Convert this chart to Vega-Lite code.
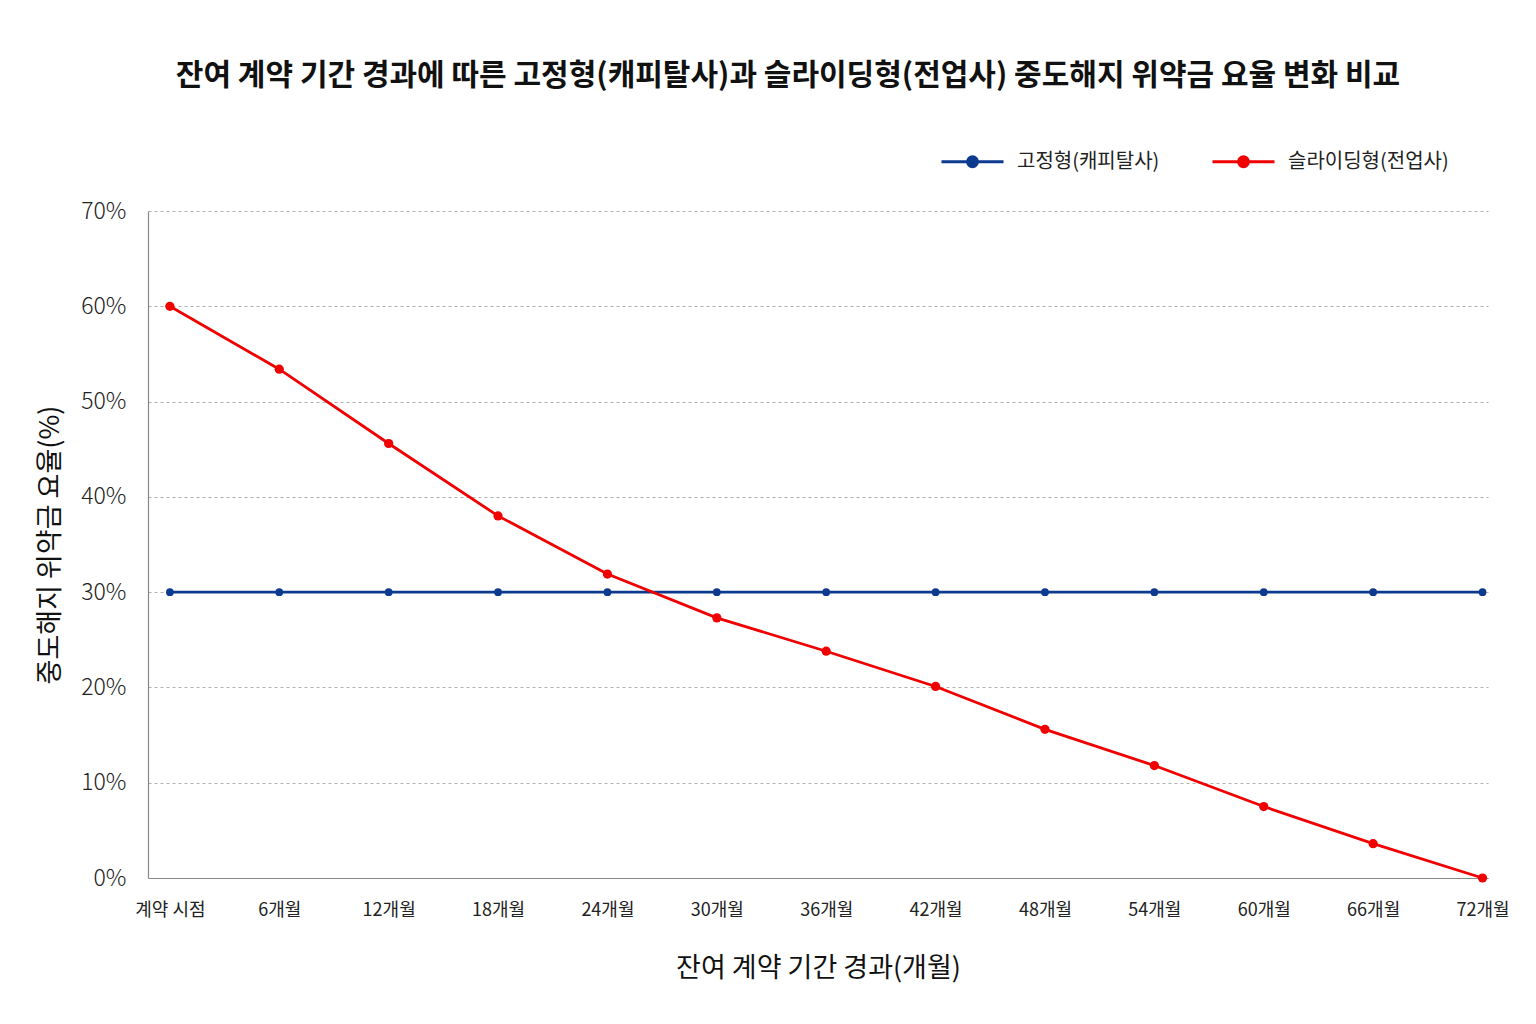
{
  "$schema": "https://vega.github.io/schema/vega-lite/v6.json",
  "width": 1340,
  "height": 667,
  "autosize": {"type": "none"},
  "padding": {"left": 148, "top": 211, "right": 48, "bottom": 146},
  "background": "white",
  "config": {
    "font": "Noto Sans CJK KR",
    "view": {"stroke": null}
  },
  "title": {
    "text": "잔여 계약 기간 경과에 따른 고정형(캐피탈사)과 슬라이딩형(전업사) 중도해지 위약금 요율 변화 비교",
    "fontSize": 30,
    "fontWeight": "bold",
    "color": "#111111",
    "anchor": "middle",
    "frame": "group",
    "dx": -30,
    "offset": 38,
    "font": "Noto Sans CJK KR"
  },
  "data": {
    "values": [
      {"month": 0, "type": "고정형(캐피탈사)", "rate": 30},
      {"month": 6, "type": "고정형(캐피탈사)", "rate": 30},
      {"month": 12, "type": "고정형(캐피탈사)", "rate": 30},
      {"month": 18, "type": "고정형(캐피탈사)", "rate": 30},
      {"month": 24, "type": "고정형(캐피탈사)", "rate": 30},
      {"month": 30, "type": "고정형(캐피탈사)", "rate": 30},
      {"month": 36, "type": "고정형(캐피탈사)", "rate": 30},
      {"month": 42, "type": "고정형(캐피탈사)", "rate": 30},
      {"month": 48, "type": "고정형(캐피탈사)", "rate": 30},
      {"month": 54, "type": "고정형(캐피탈사)", "rate": 30},
      {"month": 60, "type": "고정형(캐피탈사)", "rate": 30},
      {"month": 66, "type": "고정형(캐피탈사)", "rate": 30},
      {"month": 72, "type": "고정형(캐피탈사)", "rate": 30},
      {"month": 0, "type": "슬라이딩형(전업사)", "rate": 60},
      {"month": 6, "type": "슬라이딩형(전업사)", "rate": 53.4},
      {"month": 12, "type": "슬라이딩형(전업사)", "rate": 45.6},
      {"month": 18, "type": "슬라이딩형(전업사)", "rate": 38},
      {"month": 24, "type": "슬라이딩형(전업사)", "rate": 31.9},
      {"month": 30, "type": "슬라이딩형(전업사)", "rate": 27.3},
      {"month": 36, "type": "슬라이딩형(전업사)", "rate": 23.8},
      {"month": 42, "type": "슬라이딩형(전업사)", "rate": 20.1},
      {"month": 48, "type": "슬라이딩형(전업사)", "rate": 15.6},
      {"month": 54, "type": "슬라이딩형(전업사)", "rate": 11.8},
      {"month": 60, "type": "슬라이딩형(전업사)", "rate": 7.5},
      {"month": 66, "type": "슬라이딩형(전업사)", "rate": 3.6},
      {"month": 72, "type": "슬라이딩형(전업사)", "rate": 0}
    ]
  },
  "encoding": {
    "x": {
      "field": "month",
      "type": "quantitative",
      "scale": {"domain": [-1.2, 72.3], "nice": false, "zero": false},
      "axis": {
        "title": "잔여 계약 기간 경과(개월)",
        "titleFontSize": 27,
        "titleFontWeight": "normal",
        "titleColor": "#111111",
        "titlePadding": 36,
        "values": [0, 6, 12, 18, 24, 30, 36, 42, 48, 54, 60, 66, 72],
        "labelExpr": "datum.value == 0 ? '계약  시점' : datum.value + '개월'",
        "labelFontSize": 18,
        "labelColor": "#222222",
        "labelPadding": 23,
        "ticks": false,
        "grid": false,
        "domainColor": "#888888",
        "domainWidth": 1.2
      }
    },
    "y": {
      "field": "rate",
      "type": "quantitative",
      "scale": {"domain": [0, 70], "nice": false},
      "axis": {
        "title": "중도해지 위약금 요율(%)",
        "titleFontSize": 27,
        "titleFontWeight": "normal",
        "titleColor": "#111111",
        "titlePadding": 16,
        "values": [0, 10, 20, 30, 40, 50, 60, 70],
        "labelExpr": "datum.value + '%'",
        "labelFontSize": 23,
        "labelFontWeight": 300,
        "labelColor": "#222222",
        "labelPadding": 22,
        "ticks": false,
        "grid": true,
        "gridColor": "#b0b0b0",
        "gridDash": [3, 3],
        "gridWidth": 1,
        "domainColor": "#888888",
        "domainWidth": 1.2
      }
    },
    "color": {
      "field": "type",
      "type": "nominal",
      "scale": {
        "domain": ["고정형(캐피탈사)", "슬라이딩형(전업사)"],
        "range": ["#0b3a8e", "#f00000"]
      },
      "legend": {
        "title": null,
        "orient": "none",
        "legendX": 792,
        "legendY": -82,
        "direction": "horizontal",
        "columns": 2,
        "columnPadding": 46,
        "labelFontSize": 20,
        "labelColor": "#222222",
        "labelOffset": 12,
        "labelLimit": 400,
        "symbolType": "M-1,0L1,0M0.16,0A0.16,0.16,0,1,1,-0.16,0A0.16,0.16,0,1,1,0.16,0Z",
        "symbolSize": 3844,
        "symbolStrokeWidth": 3,
        "symbolOpacity": 1,
        "encode": {
          "symbols": {
            "update": {
              "fill": {"scale": "color", "field": "value"},
              "stroke": {"scale": "color", "field": "value"},
              "size": {"value": 3844},
              "strokeWidth": {"value": 3}
            }
          }
        }
      }
    }
  },
  "layer": [
    {"mark": {"type": "line", "strokeWidth": 2.8}},
    {
      "transform": [{"filter": "datum.type == '고정형(캐피탈사)'"}],
      "mark": {"type": "point", "filled": true, "opacity": 1, "size": 60}
    },
    {
      "transform": [{"filter": "datum.type == '슬라이딩형(전업사)'"}],
      "mark": {"type": "point", "filled": true, "opacity": 1, "size": 85}
    }
  ]
}
